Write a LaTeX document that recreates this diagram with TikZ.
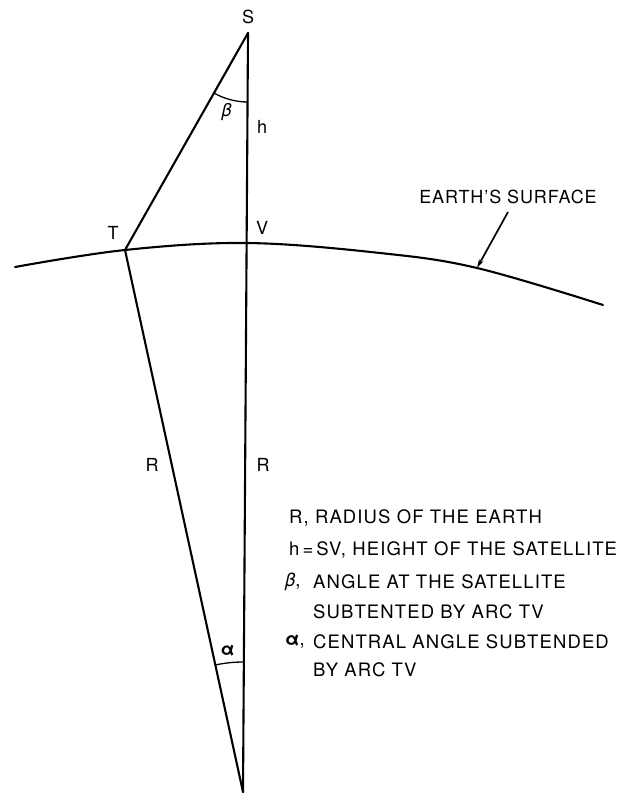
\documentclass[tikz,border=0pt]{standalone}
\usepackage{fontspec}
\setmainfont{TeX Gyre Heros}[LetterSpace=5]
\newfontfamily\legendfont{TeX Gyre Heros}[LetterSpace=6]
\usetikzlibrary{angles,arrows.meta}
\begin{document}
\begin{tikzpicture}[x=1pt,y=-1pt,
  mainline/.style={line width=2.1pt,line cap=round,line join=round},
  thinarc/.style={draw,line width=1.3pt},
  lbl/.style={inner sep=0pt,font=\fontsize{18}{20}\selectfont},
  legend/.style={inner sep=0pt,anchor=west,font=\legendfont\fontsize{18.5}{20}\selectfont}]
\useasboundingbox (0,0) rectangle (643,794);
\coordinate (S) at (248,33);
\coordinate (V) at (247,244);
\coordinate (T) at (125,250);
\coordinate (O) at (243,792);
\coordinate (tip) at (477,268);
% earth surface
\draw[mainline] plot[smooth,tension=0.6] coordinates {(15,267) (125,250) (247,243) (380,253) (477,268) (603,305)};
% triangle lines
\draw[mainline] (S) -- (O);
\draw[mainline] (S) -- (T) -- (O);
% angle arcs
\pic[thinarc, angle radius=69pt] {angle = T--S--V};
\pic[thinarc, angle radius=130pt] {angle = V--O--T};
% labels
\node[lbl] (lS) at (248,17) {S};
\node[lbl] (lT) at (113,233) {T};
\node[lbl] (lV) at (262,228) {V};
\node[lbl] (lh) at (262,127) {h};
\node[lbl] (lb) at (227,112) {\textit{β}};
\node[lbl] (la) at (228,651) {\textbf{α}};
\node[lbl] (lR1) at (152,465) {R};
\node[lbl] (lR2) at (263,465) {R};
\node[lbl] (es) at (508,197) {EARTH'S SURFACE};
\coordinate (tail) at (508,212);
\draw[line width=1.7pt,-{Stealth[length=9pt,width=5pt]}] (tail) -- (tip);
% legend
\node[legend] (g1) at (289,518) {R, RADIUS OF THE EARTH};
\node[legend] (g2) at (289,550) {h\,=\,SV, HEIGHT OF THE SATELLITE};
\node[legend] (g3s) at (285,582) {\textit{β},};
\node[legend] (g3) at (313,582) {ANGLE AT THE SATELLITE};
\node[legend] (g4) at (313,612) {SUBTENTED BY ARC TV};
\node[legend] (g5s) at (285,642) {\textbf{α},};
\node[legend] (g5) at (313,642) {CENTRAL ANGLE SUBTENDED};
\node[legend] (g6) at (313,670) {BY ARC TV};
\end{tikzpicture}
\end{document}
